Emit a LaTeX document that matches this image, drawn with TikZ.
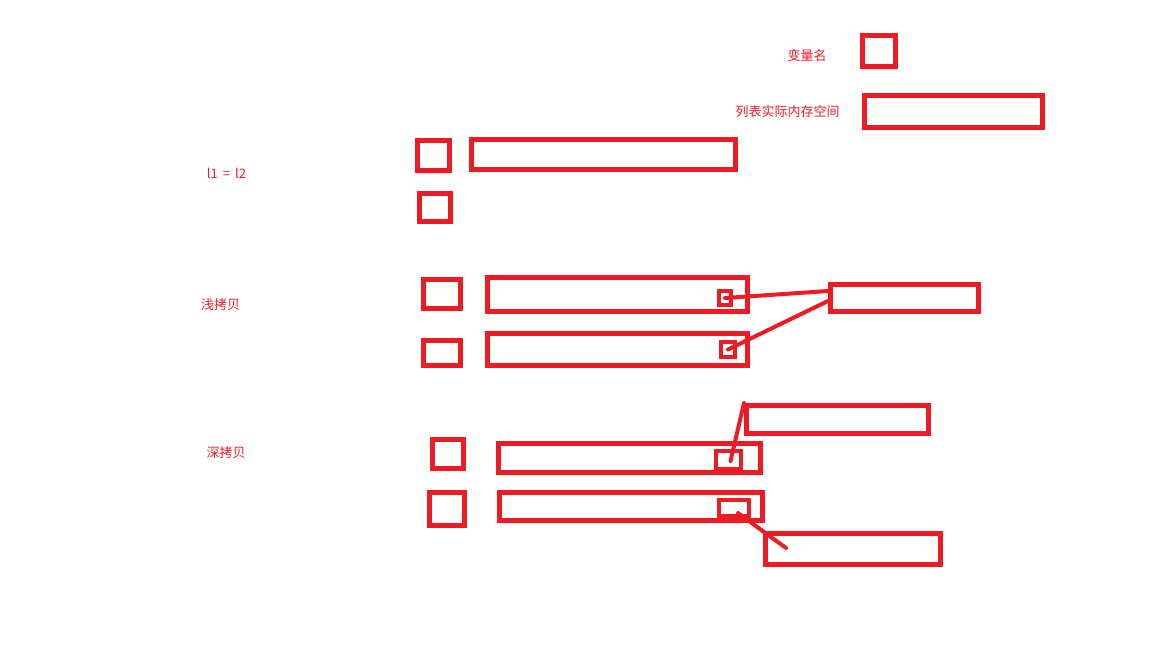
\documentclass[tikz,border=0pt]{standalone}
\usepackage{fontspec}
\setmainfont{Noto Sans CJK SC}
\definecolor{paintred}{HTML}{ED1C24}
\tikzset{
  frame/.style={draw=paintred, line width=5pt, inner sep=0pt, minimum width=#1},
  slot/.style={draw=paintred, line width=4pt, inner sep=0pt},
  link/.style={draw=paintred, line width=4pt, line cap=round},
  tag/.style={text=paintred, font=\fontsize{13}{15}\selectfont, inner sep=0pt}
}
\begin{document}
\begin{tikzpicture}[x=1pt,y=-1pt]
\useasboundingbox (0,0) rectangle (1152,648);

\node[frame=33pt, minimum height=31pt] (var) at (879,51) {};
\node[frame=178pt, minimum height=32pt] (mem) at (953.5,111.5) {};
\node[tag] (varlbl) at (807,56) {变量名};
\node[tag] (memlbl) at (787.5,112) {列表实际内存空间};

\node[tag] (eqlbl) at (226.5,173) {l1\hspace{5pt}=\hspace{5pt}l2};
\node[frame=32pt, minimum height=30pt] (a1) at (433.5,155.5) {};
\node[frame=264pt, minimum height=30pt] (A1) at (603.5,154.5) {};
\node[frame=31pt, minimum height=28pt] (a2) at (435,207.5) {};

\node[tag] (shallowlbl) at (220.5,305) {浅拷贝};
\node[frame=37pt, minimum height=29pt] (b1) at (442,294) {};
\node[frame=260pt, minimum height=34pt] (B1) at (617.5,294.5) {};
\node[slot, minimum width=12pt, minimum height=14pt] (p1) at (725,298) {};
\node[frame=37pt, minimum height=25pt] (b2) at (442,353) {};
\node[frame=260pt, minimum height=32pt] (B2) at (617.5,349.5) {};
\node[slot, minimum width=14pt, minimum height=15pt] (p2) at (728,349.5) {};
\node[frame=148pt, minimum height=27pt] (S) at (904.5,298) {};

\draw[link] (p1.center) -- ([yshift=7pt]S.west);
\draw[link] (p2.center) -- ([yshift=-3pt]S.west);

\node[tag] (deeplbl) at (226,453) {深拷贝};
\node[frame=31pt, minimum height=29pt] (c1) at (448,454) {};
\node[frame=262pt, minimum height=29pt] (C1) at (629.5,458) {};
\node[slot, minimum width=25pt, minimum height=18pt] (q1) at (728.5,460) {};
\node[frame=182pt, minimum height=28pt] (T1) at (837.5,419.5) {};
\node[frame=35pt, minimum height=33pt] (c2) at (447,509) {};
\node[frame=263pt, minimum height=28pt] (C2) at (631,506.5) {};
\node[slot, minimum width=30pt, minimum height=16pt] (q2) at (734,508) {};
\node[frame=175pt, minimum height=31pt] (T2) at (853,549) {};
\coordinate (t2end) at (786,548);

\draw[link] ([xshift=2pt,yshift=-1pt]q1.center) -- (T1.north west);
\draw[link] ([xshift=4pt,yshift=-5pt]q2.center) -- (t2end);
\end{tikzpicture}
\end{document}
